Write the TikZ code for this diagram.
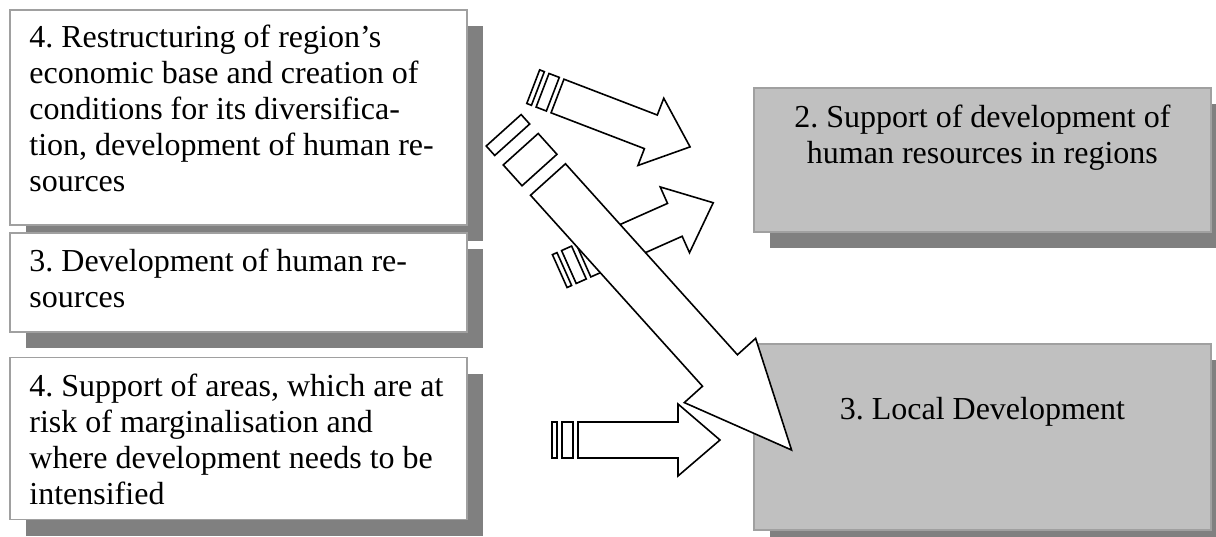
\documentclass[tikz,border=0pt]{standalone}
\usepackage{fontspec}
\setmainfont{Liberation Serif}
\usetikzlibrary{positioning,shadows}

\definecolor{boxgrey}{HTML}{C0C0C0}
\definecolor{shadowgrey}{HTML}{808080}
\definecolor{edgegrey}{HTML}{A0A0A0}

\tikzset{
  box/.style={draw=edgegrey, line width=0.9pt, minimum width=228.5pt, inner sep=0pt,
    anchor=north west,
    drop shadow={shadow xshift=8pt, shadow yshift=-8pt, fill=shadowgrey, opacity=1}},
  whitebox/.style={box, fill=white},
  greybox/.style={box, fill=boxgrey},
  boxtext/.style={inner sep=0pt, font=\fontsize{16pt}{18pt}\selectfont\frenchspacing},
  arrowline/.style={draw=black, fill=white, line width=0.8pt}
}

% striped block arrow: start, angle, body length, head length, half width, head half width
\newcommand{\stripedarrow}[6]{%
  \begin{scope}[shift={#1}, rotate=#2]
    \filldraw[arrowline] ({-26*#4/42},-#5) rectangle ({-21*#4/42},#5);
    \filldraw[arrowline] ({-16*#4/42},-#5) rectangle ({-5*#4/42},#5);
    \filldraw[arrowline] (0,-#5) -- (#3,-#5) -- (#3,-#6) -- ({#3+#4},0)
      -- (#3,#6) -- (#3,#5) -- (0,#5) -- cycle;
  \end{scope}}

\begin{document}
\begin{tikzpicture}[x=0.5pt, y=-0.5pt]
  \useasboundingbox (0,0) rectangle (1216,536);

  % left column
  \node[whitebox, minimum height=107.5pt] (restruct) at (9,9) {};
  \node[whitebox, minimum height=49.5pt, below=3pt of restruct.south west,
    anchor=north west] (humres) {};
  \node[whitebox, minimum height=81pt, below=12pt of humres.south west,
    anchor=north west] (areas) {};

  \node[boxtext, align=left, anchor=north west] (restructtext)
    at ([shift={(20,16)}]restruct.north west)
    {4. Restructuring of region’s\\economic base and creation of\\conditions for its diversifica-\\tion, development of human re-\\sources};
  \node[boxtext, align=left, anchor=north west] (humrestext)
    at ([shift={(20,17)}]humres.north west)
    {3. Development of human re-\\sources};
  \node[boxtext, align=left, anchor=north west] (areastext)
    at ([shift={(20,17)}]areas.north west)
    {4. Support of areas, which are at\\risk of marginalisation and\\where development needs to be\\intensified};

  % right column
  \node[greybox, minimum height=72pt] (support) at (753,87) {};
  \node[greybox, minimum height=93pt, below=55pt of support.south west,
    anchor=north west] (local) {};

  \node[boxtext, align=center, anchor=north] (supporttext)
    at ([yshift=-9pt]support.north)
    {2. Support of development of\\human resources in regions};
  \node[boxtext, anchor=base] (localtext) at ([yshift=8.5pt]local.center)
    {3. Local Development};

  % arrows
  \stripedarrow{(557.5,96)}{-21}{100}{42}{18}{36}
  \stripedarrow{(578,440)}{0}{100}{42}{18}{36}
  \stripedarrow{(583.5,260.5)}{24}{100}{42}{18}{36}
  \stripedarrow{(548,179.5)}{-48}{257}{107}{23.5}{48}
\end{tikzpicture}
\end{document}
